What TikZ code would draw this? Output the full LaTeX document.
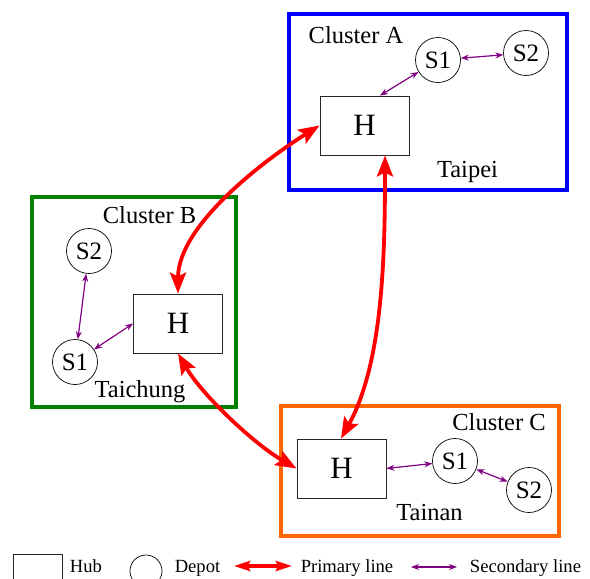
\documentclass[tikz,border=0pt]{standalone}
\usepackage{fontspec}
\setmainfont{Liberation Serif}
\usetikzlibrary{arrows.meta}

\definecolor{clA}{RGB}{0,0,255}
\definecolor{clB}{RGB}{0,128,0}
\definecolor{clC}{RGB}{255,102,0}
\definecolor{secpurple}{RGB}{128,0,128}

\begin{document}
\begin{tikzpicture}[x=1pt,y=-1pt,
  clusterbox/.style={line width=3.5pt},
  hub/.style={draw=black!85, line width=0.9pt, minimum width=89pt, minimum height=59pt,
    inner sep=0pt, font=\fontsize{31}{34}\selectfont},
  depot/.style={draw, circle, line width=0.7pt, minimum size=45pt, inner sep=0pt,
    font=\fontsize{25}{28}\selectfont},
  cname/.style={anchor=base, inner sep=0pt, font=\fontsize{24.5}{28}\selectfont},
  legtext/.style={anchor=base, inner sep=0pt, font=\fontsize{18.6}{22}\selectfont},
  primline/.style={draw=red, line width=3.8pt,
    {Stealth[length=21pt,width=16pt,inset=4pt]}-{Stealth[length=21pt,width=16pt,inset=4pt]}},
  legprim/.style={draw=red, line width=3.4pt,
    {Stealth[length=16pt,width=10pt,inset=2pt]}-{Stealth[length=16pt,width=10pt,inset=2pt]}},
  secline/.style={draw=secpurple, line width=1.2pt,
    {Stealth[length=8pt,width=6pt]}-{Stealth[length=8pt,width=6pt]}},
]
\useasboundingbox (0,0) rectangle (590,579);
\clip (0,0) rectangle (590,579);

% cluster frames
\draw[clusterbox, draw=clA] (289,14) rectangle (567,190);
\draw[clusterbox, draw=clB] (32,197) rectangle (236,407);
\draw[clusterbox, draw=clC] (281,406) rectangle (559,536);

% cluster A: Taipei
\node[cname] (nA) at (356,43) {Cluster A};
\node[cname] (cityA) at (467.5,177) {Taipei};
\node[hub] (hA) at (364.5,125.5) {H};
\node[depot] (sA1) at (438,60) {S1};
\node[depot] (sA2) at (526,53) {S2};

% cluster B: Taichung
\node[cname] (nB) at (149.5,223) {Cluster B};
\node[cname] (cityB) at (140,397) {Taichung};
\node[hub] (hB) at (178,323.5) {H};
\node[depot] (sB2) at (89,251) {S2};
\node[depot] (sB1) at (75,362) {S1};

% cluster C: Tainan
\node[cname] (nC) at (499,430) {Cluster C};
\node[cname] (cityC) at (429.5,520) {Tainan};
\node[hub] (hC) at (341.5,468.5) {H};
\node[depot] (sC1) at (455,461) {S1};
\node[depot] (sC2) at (529,490) {S2};

% primary lines between hubs
\draw[primline] (hA.west) .. controls (269,157) and (178,224) .. (hB.north);
\draw[primline] ([xshift=20.5pt]hA.south) .. controls (385,255) and (383,363) .. ([xshift=-0.5pt]hC.north);
\draw[primline] (hB.south) .. controls (202,395) and (254,444) .. (hC.west);

% secondary lines inside clusters
\draw[secline] ([xshift=15.5pt]hA.north) -- (sA1);
\draw[secline] (sA1) -- (sA2);
\draw[secline] (hB.west) -- (sB1);
\draw[secline] (sB2) -- (sB1);
\draw[secline] (hC.east) -- (sC1);
\draw[secline] (sC1) -- (sC2);

% legend
\node[draw=black!85, line width=0.9pt, minimum width=49pt, minimum height=34pt, inner sep=0pt]
  (lhub) at (37.5,571) {};
\node[legtext] (lhubt) at (86,572) {Hub};
\node[draw, circle, line width=0.7pt, minimum size=32pt, inner sep=0pt] (ldep) at (146,571) {};
\node[legtext] (ldept) at (197.5,572) {Depot};
\coordinate (lp1) at (234,566);
\coordinate (lp2) at (292,566);
\draw[legprim] (lp1) -- (lp2);
\node[legtext] (lpt) at (347,572) {Primary line};
\coordinate (ls1) at (411,567);
\coordinate (ls2) at (457,567);
\draw[secline] (ls1) -- (ls2);
\node[legtext] (lst) at (525.5,572) {Secondary line};
\end{tikzpicture}
\end{document}
